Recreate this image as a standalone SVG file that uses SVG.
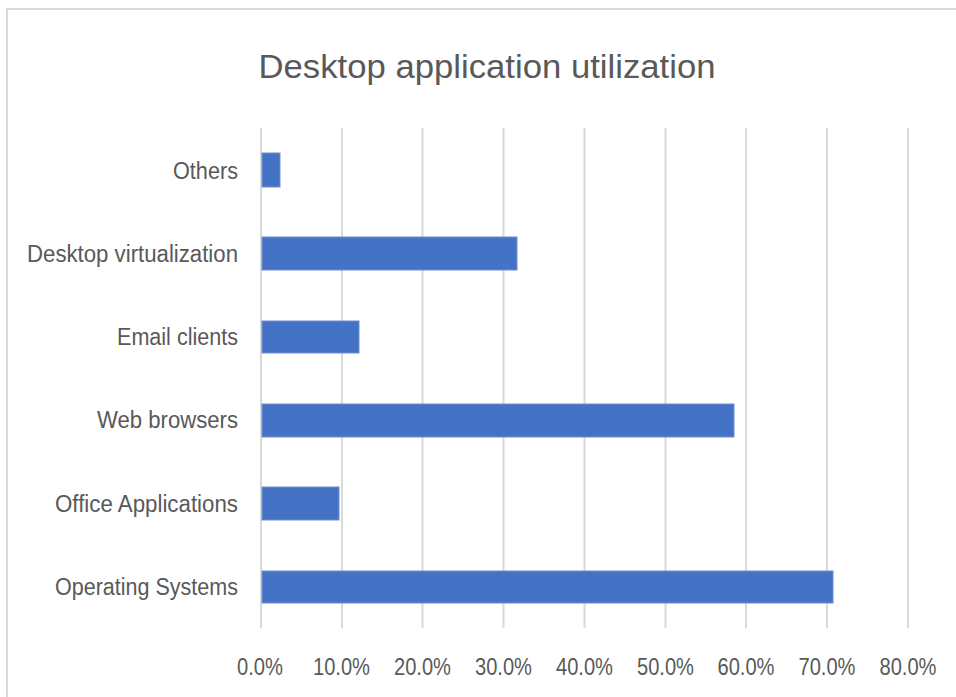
<svg xmlns="http://www.w3.org/2000/svg" width="956" height="697" viewBox="0 0 956 697">
<style>
.t{font-family:"Liberation Sans",Arial,sans-serif;fill:#595959}
.cat{font-size:23px;text-anchor:end}
.ax{font-size:24px;text-anchor:middle}
.grid line{stroke:#d9d9d9;stroke-width:2}
.bar{fill:#4472c4;stroke:#6e90d2;stroke-width:1}
</style>
<rect x="0" y="0" width="956" height="697" fill="#ffffff"/>
<rect x="7" y="9" width="960" height="700" fill="#ffffff" stroke="#d9d9d9" stroke-width="2"/>
<g id="title"><text class="t" x="487" y="78" font-size="33" text-anchor="middle" textLength="457" lengthAdjust="spacingAndGlyphs">Desktop application utilization</text></g>
<g id="grid" class="grid">
<line x1="261" y1="128" x2="261" y2="628"/>
<line x1="342" y1="128" x2="342" y2="628"/>
<line x1="422.5" y1="128" x2="422.5" y2="628"/>
<line x1="503.5" y1="128" x2="503.5" y2="628"/>
<line x1="584.5" y1="128" x2="584.5" y2="628"/>
<line x1="665.5" y1="128" x2="665.5" y2="628"/>
<line x1="746" y1="128" x2="746" y2="628"/>
<line x1="827" y1="128" x2="827" y2="628"/>
<line x1="908" y1="128" x2="908" y2="628"/>
</g>
<g id="bars">
<rect class="bar" x="262" y="153" width="18" height="34"/>
<rect class="bar" x="262" y="237" width="255" height="33"/>
<rect class="bar" x="262" y="321" width="97" height="32"/>
<rect class="bar" x="262" y="404" width="472" height="33"/>
<rect class="bar" x="262" y="487" width="77" height="33"/>
<rect class="bar" x="262" y="571" width="571" height="32"/>
</g>
<g id="categories">
<text class="t cat" x="238" y="179" textLength="65" lengthAdjust="spacingAndGlyphs">Others</text>
<text class="t cat" x="238" y="262" textLength="211" lengthAdjust="spacingAndGlyphs">Desktop virtualization</text>
<text class="t cat" x="238" y="345" textLength="121" lengthAdjust="spacingAndGlyphs">Email clients</text>
<text class="t cat" x="238" y="428" textLength="141" lengthAdjust="spacingAndGlyphs">Web browsers</text>
<text class="t cat" x="238" y="512" textLength="183" lengthAdjust="spacingAndGlyphs">Office Applications</text>
<text class="t cat" x="238" y="595" textLength="183" lengthAdjust="spacingAndGlyphs">Operating Systems</text>
</g>
<g id="axis">
<text class="t ax" x="260" y="675" textLength="46" lengthAdjust="spacingAndGlyphs">0.0%</text>
<text class="t ax" x="341.5" y="675" textLength="57" lengthAdjust="spacingAndGlyphs">10.0%</text>
<text class="t ax" x="422.5" y="675" textLength="57" lengthAdjust="spacingAndGlyphs">20.0%</text>
<text class="t ax" x="503.5" y="675" textLength="57" lengthAdjust="spacingAndGlyphs">30.0%</text>
<text class="t ax" x="584.5" y="675" textLength="57" lengthAdjust="spacingAndGlyphs">40.0%</text>
<text class="t ax" x="665.5" y="675" textLength="57" lengthAdjust="spacingAndGlyphs">50.0%</text>
<text class="t ax" x="746" y="675" textLength="57" lengthAdjust="spacingAndGlyphs">60.0%</text>
<text class="t ax" x="827" y="675" textLength="57" lengthAdjust="spacingAndGlyphs">70.0%</text>
<text class="t ax" x="908" y="675" textLength="57" lengthAdjust="spacingAndGlyphs">80.0%</text>
</g>
</svg>
